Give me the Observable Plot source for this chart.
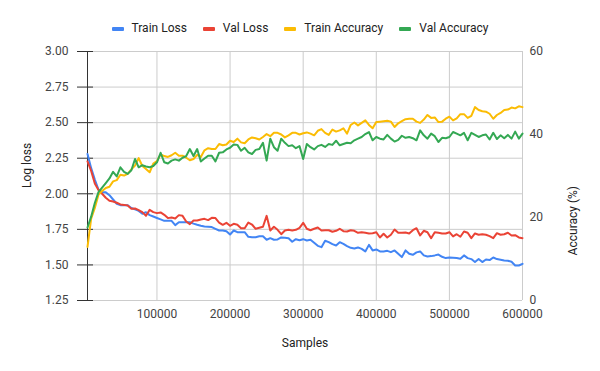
<!DOCTYPE html>
<html><head><meta charset="utf-8">
<script src="https://cdn.jsdelivr.net/npm/d3@7"></script>
<script src="https://cdn.jsdelivr.net/npm/@observablehq/plot@0.6"></script>
<style>
body{margin:0;background:#fff;}
#wrap{position:relative;width:600px;height:371px;font-family:Roboto, Arial, sans-serif;}
#wrap svg{position:absolute;left:0;top:0;}
#legend{position:absolute;top:21px;left:0;width:600px;display:flex;justify-content:center;font-size:12px;line-height:15px;color:#222;z-index:2;}
.item{display:flex;align-items:center;margin:0 8px;}
.sw{width:12px;height:4px;margin-right:8px;border-radius:1px;}
</style></head><body>
<div id="wrap"><div id="legend"></div></div>
<script>
const samples = [5000,10000,15000,20000,25000,30000,35000,40000,45000,50000,55000,60000,65000,70000,75000,80000,85000,90000,95000,100000,
105000,110000,115000,120000,125000,130000,135000,140000,145000,150000,155000,160000,165000,170000,175000,180000,185000,190000,195000,200000,
205000,210000,215000,220000,225000,230000,235000,240000,245000,250000,255000,260000,265000,270000,275000,280000,285000,290000,295000,300000,
305000,310000,315000,320000,325000,330000,335000,340000,345000,350000,355000,360000,365000,370000,375000,380000,385000,390000,395000,400000,
405000,410000,415000,420000,425000,430000,435000,440000,445000,450000,455000,460000,465000,470000,475000,480000,485000,490000,495000,500000,
505000,510000,515000,520000,525000,530000,535000,540000,545000,550000,555000,560000,565000,570000,575000,580000,585000,590000,595000,600000];

const trainLoss = [2.28,2.18,2.10,2.03,2.01,2.01,1.99,1.96,1.93,1.92,1.92,1.92,1.90,1.89,1.88,1.86,1.87,1.85,1.84,1.83,1.82,1.81,1.81,1.81,1.78,1.80,1.80,1.80,1.80,1.79,
1.782,1.775,1.770,1.768,1.766,1.754,1.742,1.742,1.737,1.714,1.742,1.730,1.730,1.730,1.698,1.695,1.695,1.702,1.702,1.677,1.688,1.677,1.679,1.693,1.691,1.688,1.663,1.681,1.674,
1.681,1.672,1.677,1.656,1.634,1.625,1.670,1.660,1.646,1.637,1.660,1.648,1.632,1.620,1.616,1.623,1.613,1.595,1.641,1.602,1.609,1.595,1.595,1.599,1.590,1.602,1.578,1.555,1.602,
1.578,1.571,1.588,1.595,1.567,1.559,1.562,1.567,1.573,1.557,1.548,1.552,1.550,1.548,1.543,1.567,1.548,1.541,1.520,1.541,1.520,1.538,1.534,1.552,1.541,1.536,1.531,1.529,1.522,1.496,1.496,1.508];

const valLoss = [2.227,2.161,2.072,2.026,2.000,1.972,1.951,1.946,1.937,1.925,1.922,1.918,1.894,1.897,1.885,1.871,1.845,1.887,1.871,1.864,1.869,1.852,1.829,1.833,1.826,1.850,1.845,1.805,1.787,1.812,
1.812,1.819,1.824,1.815,1.831,1.829,1.798,1.782,1.796,1.775,1.789,1.782,1.758,1.758,1.798,1.784,1.754,1.761,1.768,1.845,1.742,1.768,1.747,1.716,1.742,1.747,1.742,1.747,1.761,
1.796,1.754,1.744,1.754,1.763,1.742,1.744,1.744,1.733,1.740,1.754,1.737,1.735,1.744,1.740,1.726,1.730,1.726,1.721,1.723,1.730,1.693,1.719,1.693,1.712,1.749,1.726,1.726,1.728,
1.721,1.744,1.758,1.707,1.740,1.730,1.688,1.730,1.726,1.721,1.721,1.730,1.700,1.716,1.698,1.735,1.726,1.688,1.721,1.712,1.716,1.712,1.702,1.688,1.723,1.712,1.716,1.726,1.707,1.709,1.693,1.688];

const trainAcc = [12.9,19.7,22.3,25.5,26.4,27.1,27.4,28.7,29.0,30.3,30.1,30.5,31.6,32.5,34.3,32.4,31.7,30.9,33.0,33.6,35.2,34.8,34.6,35.0,35.6,34.9,34.9,34.4,33.8,34.1,
35.1,34.6,36.2,36.7,36.5,36.5,37.7,37.4,37.6,38.5,38.2,39.0,38.1,37.9,38.8,39.3,39.1,38.8,39.4,40.1,39.6,40.4,40.4,40.0,39.3,39.8,40.4,40.4,40.0,
40.3,40.5,40.2,39.8,40.9,41.3,40.4,39.9,41.2,40.7,41.0,41.5,40.2,42.3,42.9,42.2,42.8,43.4,42.3,41.5,43.0,43.1,43.2,43.3,43.1,41.8,42.7,43.2,43.7,
43.8,43.8,43.1,42.8,43.6,44.7,44.0,44.1,43.0,43.1,43.8,44.3,43.4,43.9,44.9,44.9,44.0,44.5,46.6,45.9,45.6,45.5,45.0,43.8,44.7,45.2,45.9,46.0,46.5,46.3,46.8,46.6];

const valAcc = [17.6,20.2,23.5,26.1,27.2,28.3,29.4,31.0,29.9,32.1,31.0,30.5,31.4,34.1,32.1,32.6,32.3,32.1,32.4,33.3,35.6,33.3,33.0,33.7,34.0,33.7,34.4,34.8,36.5,34.8,
36.5,33.5,34.2,34.9,34.9,33.5,35.6,35.7,36.4,36.8,37.6,37.5,36.1,36.8,35.7,35.3,36.3,36.5,38.0,33.7,39.0,36.95,36.1,39.0,38.0,37.2,37.4,36.7,37.2,
34.1,37.7,36.95,36.4,37.2,37.5,37.0,37.7,37.5,38.5,37.4,37.7,38.0,37.9,38.6,39.0,39.4,40.1,40.6,38.6,39.4,39.0,38.8,39.9,39.0,38.3,38.7,39.7,39.2,
39.4,39.1,38.6,41.0,39.8,39.0,40.2,39.6,38.2,39.2,39.1,39.4,40.6,40.2,39.8,40.4,38.6,40.4,39.9,39.4,39.8,40.0,38.8,40.4,38.9,39.8,39.1,39.9,39.0,40.7,39.0,40.2];

const xTicks = [100000,200000,300000,400000,500000,600000];
const lossTicks = [1.25,1.50,1.75,2.00,2.25,2.50,2.75,3.00];
const accTicks = [0,20,40,60];
const seriesNames = ["Train Loss","Val Loss","Train Accuracy","Val Accuracy"];
const seriesColors = ["#4285F4","#EA4335","#FBBC04","#34A853"];

const rows = samples.map((s,i)=>({x:s, trainLoss:trainLoss[i], valLoss:valLoss[i], trainAcc:trainAcc[i], valAcc:valAcc[i]}));
const xDomain = [samples[0], 600000];
const font = {fontFamily:"Roboto, Arial, sans-serif", fontSize:"12px", background:"transparent", color:"#444"};
const dims = {width:600, height:371, marginTop:51, marginBottom:71, marginLeft:87, marginRight:78};

const plotA = Plot.plot({
  ...dims, style: font,
  x: {domain: xDomain},
  y: {domain: [1.25, 3]},
  marks: [
    Plot.gridY(lossTicks, {stroke:"#cccccc", strokeOpacity:1}),
    Plot.gridX(xTicks, {stroke:"#cccccc", strokeOpacity:1}),
    Plot.axisX(xTicks, {tickSize:0, tickPadding:9, tickFormat:d=>String(d), label:null, fill:"#444"}),
    Plot.axisY(lossTicks, {tickSize:16, dx:6, tickPadding:9, tickFormat:d3.format(".2f"), label:null, stroke:"#333", fill:"#444"}),
    Plot.ruleX([xDomain[0]], {stroke:"#333"}),
    Plot.text(["Samples"], {frameAnchor:"bottom", dy:46, fill:"#222", fontSize:12}),
    Plot.text(["Log loss"], {frameAnchor:"left", rotate:-90, dx:-60, dy:12, fill:"#222", fontSize:12}),
    Plot.line(rows, {x:"x", y:"trainLoss", stroke:seriesColors[0], strokeWidth:2}),
    Plot.line(rows, {x:"x", y:"valLoss", stroke:seriesColors[1], strokeWidth:2})
  ]
});

const plotB = Plot.plot({
  ...dims, style: font,
  x: {domain: xDomain, axis: null},
  y: {domain: [0, 60]},
  marks: [
    Plot.axisY(accTicks, {anchor:"right", tickSize:0, tickPadding:7, label:null, fill:"#444"}),
    Plot.text(["Accuracy (%)"], {frameAnchor:"right", rotate:-90, dx:51, dy:10, fill:"#222", fontSize:12}),
    Plot.line(rows, {x:"x", y:"trainAcc", stroke:seriesColors[2], strokeWidth:2}),
    Plot.line(rows, {x:"x", y:"valAcc", stroke:seriesColors[3], strokeWidth:2})
  ]
});

const wrap = document.getElementById("wrap");
wrap.appendChild(plotA);
wrap.appendChild(plotB);

const legend = document.getElementById("legend");
seriesNames.forEach((n,i)=>{
  const it = document.createElement("div"); it.className="item";
  const sw = document.createElement("span"); sw.className="sw"; sw.style.background=seriesColors[i];
  const t = document.createElement("span"); t.textContent=n;
  it.appendChild(sw); it.appendChild(t); legend.appendChild(it);
});
</script>
</body></html>
